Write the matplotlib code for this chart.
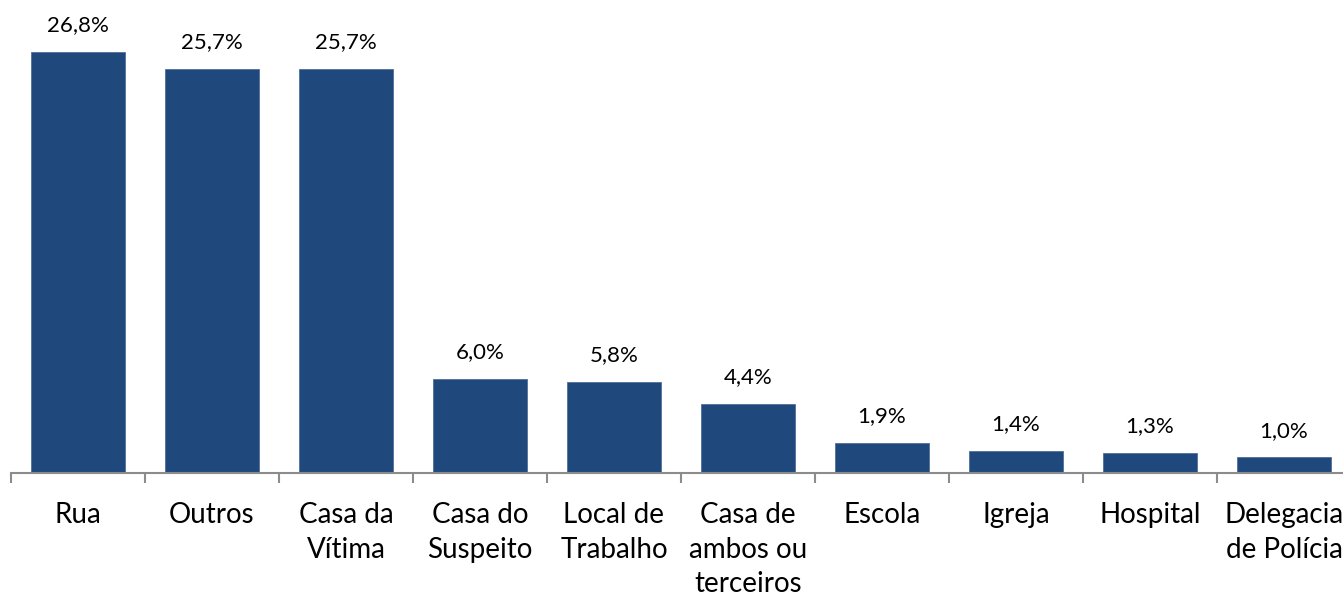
import matplotlib

matplotlib.use("Agg")
import matplotlib.pyplot as plt
import numpy as np

categories = [
    "Rua", "Outros", "Casa da\nVítima", "Casa do\nSuspeito", "Local de\nTrabalho",
    "Casa de\nambos ou\nterceiros", "Escola", "Igreja", "Hospital", "Delegacia\nde Polícia",
]
values = [26.8, 25.7, 25.7, 6.0, 5.8, 4.4, 1.9, 1.4, 1.3, 1.0]
value_labels = ["26,8%", "25,7%", "25,7%", "6,0%", "5,8%", "4,4%", "1,9%", "1,4%", "1,3%", "1,0%"]

plt.rcParams["font.family"] = ["Lato", "DejaVu Sans"]

W, H = 1343, 595
fig = plt.figure(figsize=(W / 100, H / 100), dpi=100)
# axes spans x 11..1351 px, y 0..473 px (from top)
ax = fig.add_axes([11 / W, (H - 473) / H, 1340 / W, 473 / H])

x = np.arange(len(categories))
bar_color = "#1F497D"
ax.bar(x, values, width=0.7, color=bar_color, edgecolor="#4F6F9A", linewidth=0.6, zorder=2)

for xi, v, lab in zip(x, values, value_labels):
    ax.annotate(lab, (xi, v), xytext=(0, 12), textcoords="offset points",
                ha="center", va="bottom", fontsize=16, color="black",
                annotation_clip=False)

ax.set_xlim(-0.5, len(categories) - 0.5)
ax.set_ylim(0, 30.1)

for side in ("top", "right", "left"):
    ax.spines[side].set_visible(False)
ax.spines["bottom"].set_color("#8C8C8C")
ax.spines["bottom"].set_linewidth(1.5)
ax.set_yticks([])

# category ticks sit between bars, labels centered under bars
ax.set_xticks(np.arange(len(categories) + 1) - 0.5)
ax.set_xticklabels([])
ax.tick_params(axis="x", which="major", length=7, width=1.5, color="#8C8C8C", direction="out")
ax.set_xticks(x, minor=True)
ax.set_xticklabels(categories, minor=True, fontsize=20, linespacing=1.4)
ax.tick_params(axis="x", which="minor", length=0, pad=21)

fig.savefig("out.png", dpi=100)
